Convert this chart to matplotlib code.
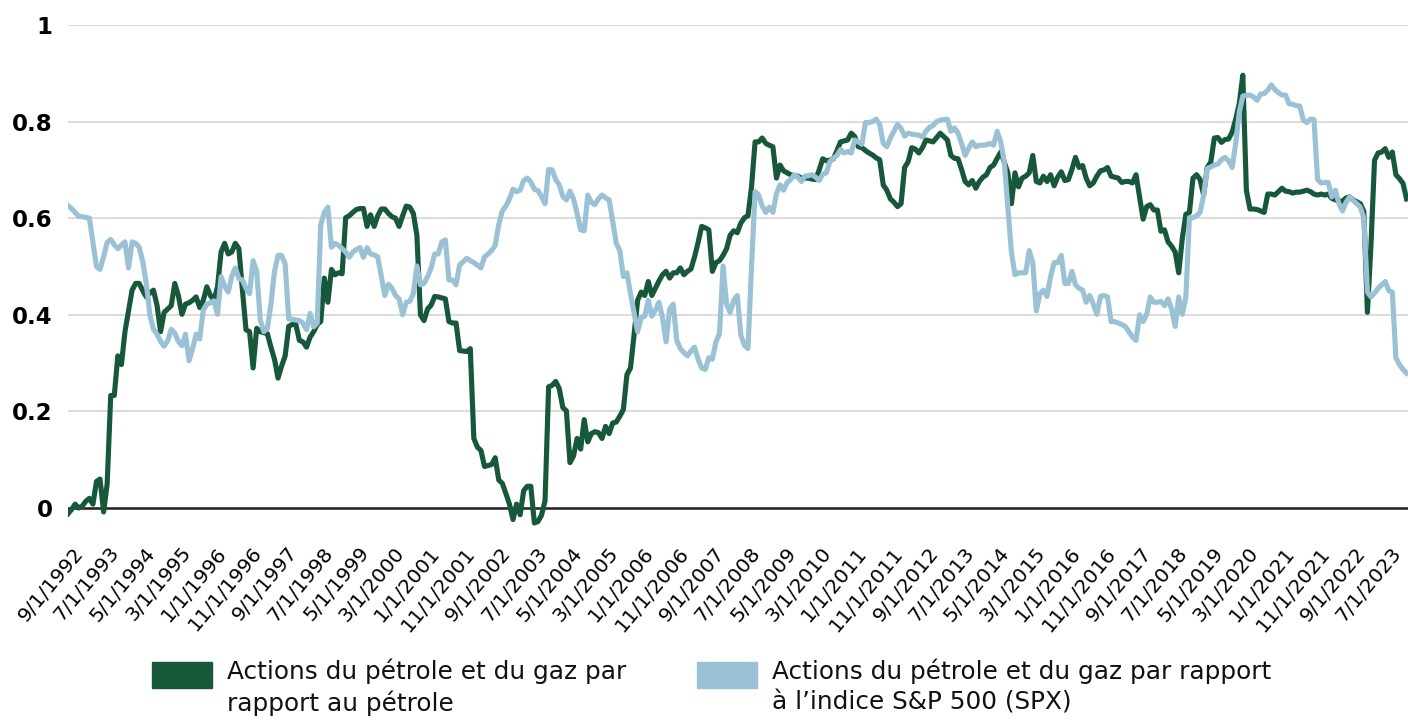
"""
Ratio des actions du pétrole et du gaz (vs pétrole, vs S&P 500), mensuel 1992-2024.
Valeurs relevées à l'oeil sur le graphique d'origine.
"""

import numpy as np
import matplotlib
matplotlib.use("Agg")
import matplotlib.pyplot as plt
from matplotlib.patches import Rectangle
from matplotlib.transforms import ScaledTranslation

# --- données (un point par mois, à partir de 9/1992) -----------------------
petrole = [
    -0.012, -0.003, 0.008, 0.0, 0.004, 0.014, 0.02, 0.008, 0.055, 0.06,
    -0.008, 0.05, 0.233, 0.233, 0.315, 0.297, 0.365, 0.408, 0.451, 0.465,
    0.465, 0.45, 0.437, 0.445, 0.451, 0.42, 0.365, 0.405, 0.412, 0.419,
    0.465, 0.44, 0.401, 0.422, 0.425, 0.43, 0.437, 0.415, 0.43, 0.458,
    0.44, 0.43, 0.458, 0.53, 0.548, 0.526, 0.53, 0.548, 0.537, 0.451,
    0.369, 0.365, 0.29, 0.372, 0.365, 0.363, 0.361, 0.333, 0.308, 0.269,
    0.294, 0.315, 0.376, 0.38, 0.38, 0.347, 0.344, 0.333, 0.354, 0.365,
    0.38, 0.386, 0.476, 0.426, 0.494, 0.483, 0.487, 0.485, 0.601, 0.605,
    0.612, 0.618, 0.62, 0.62, 0.583, 0.607, 0.583, 0.605, 0.619, 0.619,
    0.61, 0.603, 0.6, 0.583, 0.605, 0.625, 0.623, 0.61, 0.565, 0.40,
    0.388, 0.412, 0.42, 0.438, 0.437, 0.435, 0.433, 0.386, 0.383, 0.383,
    0.326, 0.325, 0.324, 0.33, 0.144, 0.126, 0.119, 0.086, 0.088, 0.09,
    0.104, 0.058, 0.051, 0.03, 0.008, -0.024, 0.008, -0.014, 0.036, 0.045,
    0.045, -0.031, -0.028, -0.015, 0.015, 0.251, 0.254, 0.262, 0.247, 0.208,
    0.201, 0.094, 0.108, 0.144, 0.122, 0.183, 0.137, 0.154, 0.158, 0.156,
    0.144, 0.169, 0.154, 0.176, 0.178, 0.19, 0.204, 0.276, 0.29, 0.358,
    0.43, 0.447, 0.44, 0.469, 0.44, 0.455, 0.47, 0.483, 0.49, 0.476,
    0.487, 0.487, 0.497, 0.483, 0.49, 0.495, 0.52, 0.55, 0.583, 0.58,
    0.576, 0.49, 0.508, 0.512, 0.523, 0.537, 0.565, 0.574, 0.57, 0.59,
    0.601, 0.605, 0.665, 0.758, 0.758, 0.766, 0.755, 0.751, 0.748, 0.683,
    0.71, 0.698, 0.694, 0.69, 0.688, 0.687, 0.683, 0.683, 0.683, 0.681,
    0.68, 0.70, 0.723, 0.719, 0.72, 0.723, 0.74, 0.758, 0.76, 0.762,
    0.776, 0.769, 0.748, 0.746, 0.74, 0.735, 0.731, 0.725, 0.721, 0.669,
    0.658, 0.64, 0.633, 0.624, 0.63, 0.705, 0.717, 0.746, 0.743, 0.735,
    0.746, 0.762, 0.76, 0.758, 0.767, 0.776, 0.769, 0.762, 0.73, 0.724,
    0.723, 0.701, 0.676, 0.669, 0.678, 0.662, 0.676, 0.685, 0.69, 0.705,
    0.71, 0.724, 0.737, 0.716, 0.694, 0.63, 0.694, 0.665, 0.683, 0.687,
    0.694, 0.73, 0.676, 0.673, 0.687, 0.676, 0.69, 0.667, 0.685, 0.696,
    0.678, 0.68, 0.701, 0.726, 0.705, 0.709, 0.683, 0.667, 0.673, 0.687,
    0.698, 0.7, 0.705, 0.687, 0.685, 0.683, 0.674, 0.676, 0.676, 0.673,
    0.69, 0.644, 0.598, 0.624, 0.628, 0.617, 0.617, 0.573, 0.576, 0.551,
    0.542, 0.53, 0.487, 0.558, 0.608, 0.612, 0.683, 0.69, 0.68, 0.648,
    0.705, 0.716, 0.766, 0.767, 0.757, 0.763, 0.764, 0.778, 0.805, 0.837,
    0.896, 0.658, 0.619, 0.619, 0.618, 0.615, 0.612, 0.65, 0.65, 0.648,
    0.655, 0.662, 0.656, 0.655, 0.652, 0.654, 0.654, 0.656, 0.658, 0.655,
    0.65, 0.648, 0.65, 0.648, 0.65, 0.641, 0.638, 0.636, 0.635, 0.642,
    0.644, 0.638, 0.634, 0.63, 0.614, 0.405, 0.545, 0.72, 0.735, 0.737,
    0.744, 0.726, 0.737, 0.69, 0.682, 0.672, 0.64,
]

spx = [
    0.626, 0.62, 0.612, 0.604, 0.603, 0.602, 0.6, 0.55, 0.5, 0.494,
    0.52, 0.55, 0.556, 0.545, 0.537, 0.544, 0.551, 0.497, 0.551, 0.548,
    0.54, 0.51, 0.465, 0.40, 0.37, 0.36, 0.345, 0.335, 0.346, 0.37,
    0.362, 0.345, 0.336, 0.36, 0.305, 0.33, 0.36, 0.35, 0.41, 0.422,
    0.425, 0.429, 0.401, 0.479, 0.46, 0.447, 0.48, 0.497, 0.475, 0.472,
    0.455, 0.444, 0.512, 0.49, 0.39, 0.365, 0.372, 0.422, 0.49, 0.523,
    0.523, 0.505, 0.391, 0.391, 0.389, 0.388, 0.383, 0.369, 0.403, 0.375,
    0.383, 0.587, 0.612, 0.623, 0.54, 0.548, 0.544, 0.537, 0.53, 0.519,
    0.53, 0.535, 0.539, 0.519, 0.539, 0.526, 0.524, 0.52, 0.48, 0.44,
    0.463, 0.455, 0.44, 0.433, 0.4, 0.426, 0.428, 0.444, 0.501, 0.462,
    0.465, 0.479, 0.497, 0.526, 0.526, 0.551, 0.555, 0.472, 0.472, 0.462,
    0.503, 0.51, 0.517, 0.512, 0.508, 0.503, 0.497, 0.52, 0.526, 0.533,
    0.544, 0.587, 0.615, 0.625, 0.64, 0.66, 0.655, 0.658, 0.678, 0.683,
    0.675, 0.66, 0.657, 0.645, 0.63, 0.701, 0.7, 0.68, 0.669, 0.645,
    0.638, 0.656, 0.64, 0.61, 0.576, 0.574, 0.648, 0.633, 0.628, 0.64,
    0.648, 0.642, 0.638, 0.594, 0.548, 0.533, 0.479, 0.487, 0.444, 0.405,
    0.365, 0.394, 0.397, 0.43, 0.397, 0.41, 0.426, 0.394, 0.344, 0.412,
    0.422, 0.347, 0.33, 0.322, 0.315, 0.325, 0.333, 0.308, 0.29, 0.287,
    0.311, 0.308, 0.344, 0.361, 0.501, 0.422, 0.405, 0.43, 0.44, 0.358,
    0.337, 0.33, 0.50, 0.655, 0.648, 0.625, 0.612, 0.623, 0.612, 0.651,
    0.669, 0.658, 0.674, 0.68, 0.69, 0.685, 0.676, 0.687, 0.688, 0.69,
    0.685, 0.678, 0.691, 0.694, 0.717, 0.724, 0.73, 0.742, 0.735, 0.738,
    0.735, 0.762, 0.758, 0.753, 0.798, 0.798, 0.8, 0.805, 0.794, 0.755,
    0.748, 0.766, 0.78, 0.794, 0.786, 0.77, 0.776, 0.774, 0.773, 0.772,
    0.768, 0.78, 0.788, 0.792, 0.8, 0.803, 0.804, 0.805, 0.78, 0.787,
    0.776, 0.755, 0.73, 0.745, 0.758, 0.748, 0.751, 0.751, 0.752, 0.755,
    0.751, 0.78, 0.758, 0.716, 0.623, 0.53, 0.483, 0.487, 0.487, 0.487,
    0.533, 0.508, 0.408, 0.444, 0.451, 0.438, 0.479, 0.508, 0.508, 0.523,
    0.465, 0.465, 0.49, 0.462, 0.455, 0.451, 0.426, 0.44, 0.422, 0.401,
    0.438, 0.44, 0.437, 0.386, 0.386, 0.383, 0.38, 0.376, 0.365, 0.354,
    0.347, 0.4, 0.386, 0.401, 0.437, 0.426, 0.426, 0.428, 0.419, 0.433,
    0.412, 0.376, 0.437, 0.401, 0.437, 0.601, 0.601, 0.605, 0.612, 0.648,
    0.703, 0.706, 0.71, 0.712, 0.721, 0.726, 0.719, 0.705, 0.755, 0.819,
    0.853, 0.854, 0.855, 0.851, 0.844, 0.857, 0.858, 0.865, 0.876, 0.866,
    0.86, 0.855, 0.855, 0.837, 0.836, 0.833, 0.832, 0.803, 0.798, 0.805,
    0.804, 0.68, 0.673, 0.674, 0.674, 0.644, 0.658, 0.63, 0.615, 0.633,
    0.644, 0.637, 0.63, 0.623, 0.6, 0.447, 0.437, 0.445, 0.455, 0.462,
    0.469, 0.45, 0.447, 0.311, 0.297, 0.287, 0.279,
]

# une étiquette tous les 10 mois
date_labels = [
    "9/1/1992", "7/1/1993", "5/1/1994", "3/1/1995", "1/1/1996", "11/1/1996",
    "9/1/1997", "7/1/1998", "5/1/1999", "3/1/2000", "1/1/2001", "11/1/2001",
    "9/1/2002", "7/1/2003", "5/1/2004", "3/1/2005", "1/1/2006", "11/1/2006",
    "9/1/2007", "7/1/2008", "5/1/2009", "3/1/2010", "1/1/2011", "11/1/2011",
    "9/1/2012", "7/1/2013", "5/1/2014", "3/1/2015", "1/1/2016", "11/1/2016",
    "9/1/2017", "7/1/2018", "5/1/2019", "3/1/2020", "1/1/2021", "11/1/2021",
    "9/1/2022", "7/1/2023",
]
y_ticks = [0, 0.2, 0.4, 0.6, 0.8, 1.0]
y_labels = ["0", "0.2", "0.4", "0.6", "0.8", "1"]

legend_labels = [
    "Actions du pétrole et du gaz par\nrapport au pétrole",
    "Actions du pétrole et du gaz par rapport\nà l’indice S&P 500 (SPX)",
]

GREEN = "#17573A"
BLUE = "#9BC1D5"
W, H = 1408, 721


def px(x, y):
    """pixels (origine en haut à gauche) -> fraction de figure"""
    return x / W, 1 - y / H


def main():
    plt.rcParams["font.family"] = ["DejaVu Sans"]
    fig = plt.figure(figsize=(W / 100, H / 100), dpi=100)

    left, top = px(68, 25)
    right, bottom = px(1408, 537)
    ax = fig.add_axes([left, bottom, right - left, top - bottom])

    months = np.arange(len(petrole))
    ax.plot(months, petrole, color=GREEN, lw=3.7, zorder=3,
            solid_joinstyle="round")
    ax.plot(months, spx, color=BLUE, lw=3.7, zorder=4,
            solid_joinstyle="round")

    ax.set_xlim(0, len(petrole) - 0.6)
    ax.set_ylim(-0.06, 1.0)

    for v in y_ticks[1:]:
        ax.axhline(v, color="#D9D9D9", lw=1.3, zorder=1)
    ax.axhline(0, color="#231F20", lw=1.8, zorder=2)

    for s in ax.spines.values():
        s.set_visible(False)

    ax.set_yticks(y_ticks)
    ax.set_yticklabels(y_labels, fontsize=16.5, fontweight="bold")
    ax.tick_params(axis="y", length=0, pad=11)

    ax.set_xticks(np.arange(0, len(petrole), 10)[:len(date_labels)])
    ax.set_xticklabels(date_labels, rotation=50, ha="right", va="center",
                       rotation_mode="anchor", fontsize=14.5)
    ax.tick_params(axis="x", length=0, pad=9)
    shift = ScaledTranslation(9 / 72, 0, fig.dpi_scale_trans)
    for lab in ax.get_xticklabels():
        lab.set_transform(lab.get_transform() + shift)

    # légende manuelle sous le graphique
    for (x0, xt), color, text in zip([(152, 227), (697, 772)],
                                      [GREEN, BLUE], legend_labels):
        rx, ry = px(x0, 688)
        fig.patches.append(Rectangle((rx, ry), 60 / W, 26 / H, color=color,
                                     transform=fig.transFigure, figure=fig))
        tx, ty = px(xt, 659)
        fig.text(tx, ty, text, fontsize=17.8, va="top", ha="left",
                 linespacing=1.3, color="#111111")

    fig.savefig("out.png", dpi=100)
    plt.close(fig)


if __name__ == "__main__":
    main()
